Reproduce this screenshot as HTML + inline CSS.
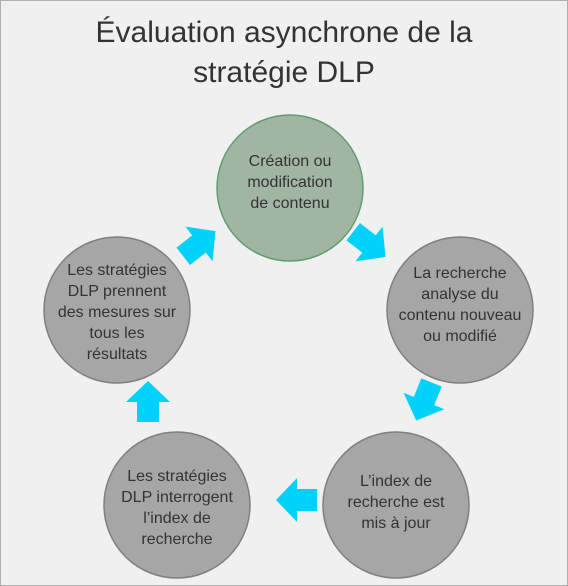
<!DOCTYPE html>
<html><head><meta charset="utf-8"><style>
html,body{margin:0;padding:0;}
body{width:568px;height:586px;background:#f0f0f0;position:relative;overflow:hidden;font-family:"Liberation Sans",sans-serif;}
.frame{position:absolute;left:0;top:0;width:566px;height:584px;border:1px solid #b0b0b0;}
.title{position:absolute;left:0;width:568px;text-align:center;font-size:30px;color:#333;line-height:40px;top:13px;}
</style></head><body>
<div class="frame"></div>
<div class="title">Évaluation asynchrone de la<br>stratégie DLP</div>
<svg width="568" height="586" style="position:absolute;left:0;top:0" font-family="Liberation Sans, sans-serif" font-size="16" fill="#333" text-anchor="middle">
<defs>
<polygon id="ar" points="-20,-11 0,-11 0,-22 21,0 0,22 0,11 -20,11" fill="#00d2fb"/>
</defs>
<circle cx="290" cy="188" r="73" fill="#a1b6a2" stroke="#5f9e70" stroke-width="1.5"/>
<circle cx="460" cy="310" r="73" fill="#a6a6a6" stroke="#7f7f7f" stroke-width="1.5"/>
<circle cx="396" cy="505" r="73" fill="#a6a6a6" stroke="#7f7f7f" stroke-width="1.5"/>
<circle cx="177" cy="505" r="73" fill="#a6a6a6" stroke="#7f7f7f" stroke-width="1.5"/>
<circle cx="117" cy="310" r="73" fill="#a6a6a6" stroke="#7f7f7f" stroke-width="1.5"/>
<use href="#ar" transform="translate(369,244) rotate(38)"/>
<use href="#ar" transform="translate(424,401) rotate(112)"/>
<use href="#ar" transform="translate(297,500) rotate(180)"/>
<use href="#ar" transform="translate(148,402) rotate(-90)"/>
<use href="#ar" transform="translate(199,244) rotate(-38)"/>
<text x="290" y="166">Création ou</text>
<text x="290" y="187">modification</text>
<text x="290" y="208">de contenu</text>
<text x="460" y="278">La recherche</text>
<text x="460" y="299">analyse du</text>
<text x="460" y="320">contenu nouveau</text>
<text x="460" y="341">ou modifié</text>
<text x="396" y="486">L’index de</text>
<text x="396" y="507">recherche est</text>
<text x="396" y="528">mis à jour</text>
<text x="177" y="481">Les stratégies</text>
<text x="177" y="502">DLP interrogent</text>
<text x="177" y="523">l’index de</text>
<text x="177" y="544">recherche</text>
<text x="117" y="275">Les stratégies</text>
<text x="117" y="296">DLP prennent</text>
<text x="117" y="317">des mesures sur</text>
<text x="117" y="338">tous les</text>
<text x="117" y="359">résultats</text>
</svg>
</body></html>
